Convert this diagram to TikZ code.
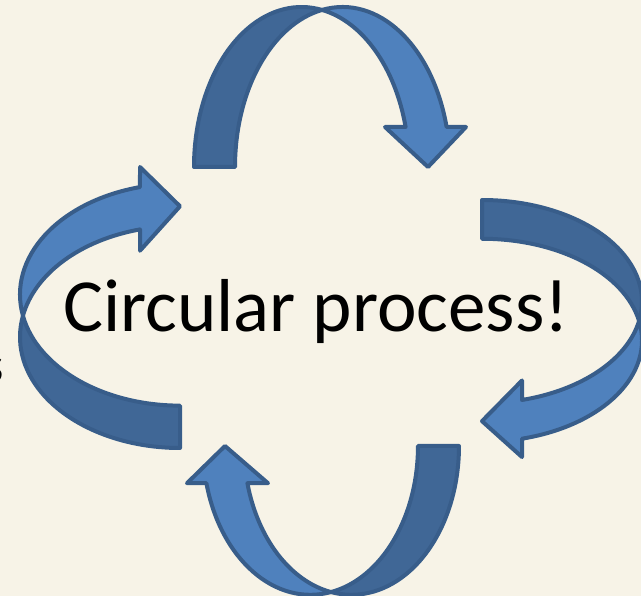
\documentclass[tikz,border=0pt]{standalone}
\usepackage{fontspec}
\setmainfont{Carlito}
\definecolor{bgcol}{HTML}{F7F3E7}
\definecolor{lightblue}{HTML}{4F81BD}
\definecolor{darkblue}{HTML}{406796}
\definecolor{edgeblue}{HTML}{385D8A}
\tikzset{
  backpart/.style={fill=darkblue,draw=edgeblue,line width=4pt,line join=round},
  frontpart/.style={fill=lightblue,draw=edgeblue,line width=4pt,line join=round},
  ell/.style={x radius=107.5,y radius=160}
}
\newcommand\mycurvedarrow{%
  \path[backpart] (0,0) arc[start angle=180,end angle=79,ell]
    arc[start angle=101,end angle=180,ell] -- cycle;
  \path[frontpart] (128,157.06) arc[start angle=101,end angle=14.48,ell]
    -- (272,40) -- (234,0) -- (191,40) -- (211.6,40)
    arc[start angle=14.48,end angle=79,ell] -- cycle;
}
\begin{document}
\begin{tikzpicture}[x=1pt,y=1pt]
\fill[bgcol] (0,0) rectangle (641,-596);
\useasboundingbox (0,0) rectangle (641,-596);
\begin{scope}[shift={(194,-167)}]
  \mycurvedarrow
\end{scope}
\begin{scope}[shift={(482,-200)},rotate=-90,xscale=0.945]
  \mycurvedarrow
\end{scope}
\begin{scope}[shift={(459,-446)},rotate=180,yscale=0.93]
  \mycurvedarrow
\end{scope}
\begin{scope}[shift={(180,-448)},rotate=90,xscale=1.033]
  \mycurvedarrow
\end{scope}
\node[anchor=base west,inner sep=0pt,font=\fontsize{75}{80}\selectfont] (t) at (63,-332) {Circular process!};
\node[anchor=base east,inner sep=0pt,font=\fontsize{52}{60}\selectfont] (s) at (4,-383) {s};
\end{tikzpicture}
\end{document}
